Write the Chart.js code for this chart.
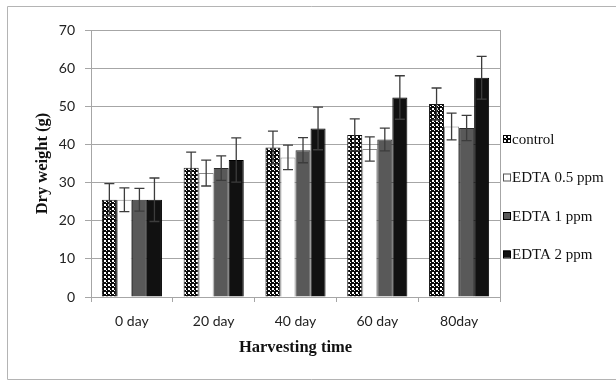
<!DOCTYPE html>
<html>
<head>
<meta charset="utf-8">
<script src="https://cdn.jsdelivr.net/npm/chart.js@4/dist/chart.umd.min.js"></script>
<style>
    html, body { margin: 0; padding: 0; background: #fff; }
    #wrap { width: 616px; height: 381px; position: relative; }
</style>
</head>
<body>
<div id="wrap"><canvas id="chart" width="616" height="381"></canvas></div>
<script>
const days = ['0 day', '20 day', '40 day', '60 day', '80day'];
const seriesNames = ['control', 'EDTA 0.5 ppm', 'EDTA 1 ppm', 'EDTA 2 ppm'];

const control = [25.5, 33.9, 39.2, 42.5, 50.6];
const edta05 = [25.5, 32.5, 36.6, 38.8, 44.7];
const edta1 = [25.5, 33.8, 38.5, 41.3, 44.3];
const edta2 = [25.5, 35.9, 44.2, 52.3, 57.5];

const controlErr = [4.2, 4.1, 4.3, 4.2, 4.2];
const edta05Err = [3.1, 3.4, 3.2, 3.2, 3.5];
const edta1Err = [3.0, 3.2, 3.3, 3.0, 3.3];
const edta2Err = [5.7, 5.8, 5.6, 5.7, 5.6];

const yTicks = [0, 10, 20, 30, 40, 50, 60, 70];

// checkered fill like the excel pattern
const checker = () => {
    const c = document.createElement('canvas');
    c.width = 4; c.height = 4;
    const g = c.getContext('2d');
    g.fillStyle = '#0a0a0a';
    g.fillRect(0, 0, 4, 4);
    g.fillStyle = '#fff';
    g.fillRect(0, 0, 2, 2);
    g.fillRect(2, 2, 1, 1);
    return g.createPattern(c, 'repeat');
};

const ctx = document.getElementById('chart').getContext('2d');
const pattern = checker();

const fills = [pattern, '#ffffff', '#595959', '#111111'];
const borders = ['#111', '#8a8a8a', '#2a2a2a', '#000'];
const values = [control, edta05, edta1, edta2];
const errors = [controlErr, edta05Err, edta1Err, edta2Err];

const errorBars = {
    id: 'errorBars',
    afterDatasetsDraw(chart) {
        const c = chart.ctx;
        const y = chart.scales.y;
        c.save();
        c.strokeStyle = '#3c3c3c';
        c.lineWidth = 1.3;
        chart.data.datasets.forEach((ds, i) => {
            chart.getDatasetMeta(i).data.forEach((bar, j) => {
                const top = y.getPixelForValue(ds.data[j] + ds.errors[j]);
                const bot = y.getPixelForValue(ds.data[j] - ds.errors[j]);
                c.beginPath();
                c.moveTo(bar.x, top); c.lineTo(bar.x, bot);
                c.moveTo(bar.x - 5, top); c.lineTo(bar.x + 5, top);
                c.moveTo(bar.x - 5, bot); c.lineTo(bar.x + 5, bot);
                c.stroke();
            });
        });
        c.restore();
    }
};

const frame = {
    id: 'frame',
    beforeDraw(chart) {
        const c = chart.ctx;
        c.save();
        c.strokeStyle = '#b4b4b4';
        c.lineWidth = 1;
        c.beginPath();
        c.moveTo(616, 6.5); c.lineTo(7.5, 6.5); c.lineTo(7.5, 379.5); c.lineTo(616, 379.5);
        c.stroke();
        c.restore();
    },
    afterDraw(chart) {
        const a = chart.chartArea;
        const c = chart.ctx;
        c.save();
        c.strokeStyle = '#a6a6a6';
        c.lineWidth = 1;
        c.beginPath();
        c.moveTo(Math.round(a.right) + 0.5, a.top);
        c.lineTo(Math.round(a.right) + 0.5, a.bottom);
        c.stroke();
        c.restore();
    }
};

// legend placed the way excel put it, right next to the plot area
const sideLegend = {
    id: 'sideLegend',
    afterDraw(chart, args, opts) {
        const c = chart.ctx;
        c.save();
        c.font = opts.font;
        c.textBaseline = 'middle';
        chart.data.datasets.forEach((ds, i) => {
            const cy = opts.top + i * opts.step;
            c.fillStyle = ds.backgroundColor;
            c.fillRect(opts.x, cy - 4, 7, 7);
            c.strokeStyle = i === 1 ? '#555' : '#000';
            c.lineWidth = 1;
            c.strokeRect(opts.x + 0.5, cy - 3.5, 7, 7);
            c.fillStyle = '#111';
            c.fillText(ds.label, opts.x + 9, cy + 1);
        });
        c.restore();
    }
};

new Chart(ctx, {
    type: 'bar',
    data: {
        labels: days,
        datasets: seriesNames.map((name, i) => ({
            label: name,
            data: values[i],
            errors: errors[i],
            backgroundColor: fills[i],
            borderColor: borders[i],
            borderWidth: 1,
            categoryPercentage: 0.735,
            barPercentage: 1
        }))
    },
    options: {
        responsive: false,
        animation: false,
        layout: { padding: { left: 8, right: 116, top: 30, bottom: 22 } },
        plugins: {
            legend: { display: false },
            tooltip: { enabled: false },
            sideLegend: { x: 503, top: 139, step: 38.5, font: '15px "Liberation Serif"' }
        },
        scales: {
            x: {
                afterFit: s => { s.height = 62; },
                grid: { drawOnChartArea: false, color: '#a6a6a6', tickLength: 5 },
                border: { color: '#a6a6a6', width: 1 },
                ticks: { color: '#222', padding: 11, font: { family: 'Lato', size: 14 } },
                title: {
                    display: true,
                    text: 'Harvesting time',
                    color: '#111',
                    padding: { top: 0, bottom: 1 },
                    font: { family: 'Liberation Serif', size: 16.5, weight: 'bold' }
                }
            },
            y: {
                min: 0,
                max: 70,
                afterFit: s => { s.width = 83; },
                afterBuildTicks: s => { s.ticks = yTicks.map(v => ({ value: v })); },
                grid: { color: '#a6a6a6', lineWidth: 1, tickLength: 6 },
                border: { color: '#a6a6a6', width: 1 },
                ticks: { color: '#222', padding: 10, font: { family: 'Lato', size: 14 } },
                title: {
                    display: true,
                    text: 'Dry weight (g)',
                    color: '#111',
                    padding: { top: 25, bottom: 0 },
                    font: { family: 'Liberation Serif', size: 16.5, weight: 'bold' }
                }
            }
        }
    },
    plugins: [frame, errorBars, sideLegend]
});
</script>
</body>
</html>
